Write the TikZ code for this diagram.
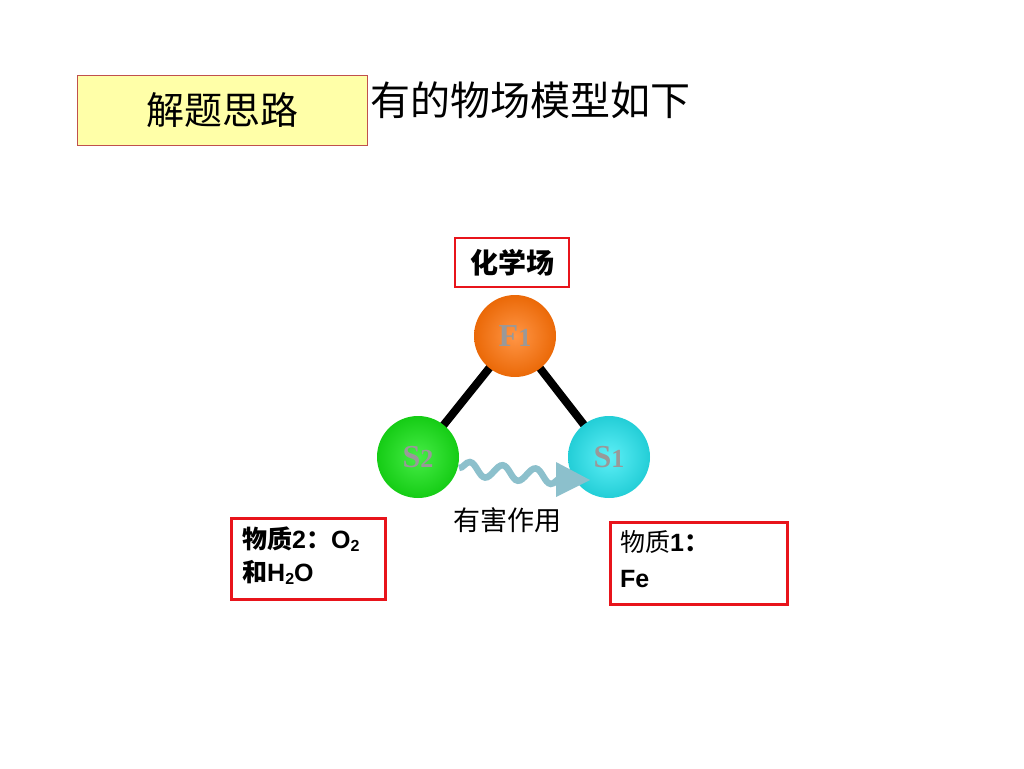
\documentclass[tikz,border=0pt]{standalone}
\usepackage{fontspec}
\setmainfont{Liberation Sans}
\newfontfamily\cjk{Noto Sans CJK SC}
\newfontfamily\lserif{Liberation Serif}
\usetikzlibrary{decorations.pathmorphing,arrows.meta,calc}
\definecolor{boxyellow}{HTML}{FFFFA8}
\definecolor{boxedge}{HTML}{C0504D}
\definecolor{redline}{HTML}{E8141B}
\definecolor{orangeF}{HTML}{FF7208}
\definecolor{greenS}{HTML}{18E818}
\definecolor{cyanS}{HTML}{28EAF4}
\definecolor{wave}{HTML}{8CC0CC}
\tikzset{
  redbox/.style={draw=redline, line width=2.6pt, fill=white},
  ball/.style={circle, minimum size=82pt, inner sep=0pt, font=\lserif\bfseries\fontsize{32}{32}\selectfont, text=gray!80},
  link/.style={line width=8pt, black},
}
\newcommand{\sub}[1]{\raisebox{-0.12em}{\fontsize{16}{16}\selectfont #1}}
\begin{document}
\begin{tikzpicture}[x=1pt,y=-1pt]
\useasboundingbox (0,0) rectangle (1024,768);
% title
\node[anchor=west, inner sep=0pt, font=\cjk\fontsize{40}{40}\selectfont] (title) at (370,100) {有的物场模型如下};
\node[draw=boxedge, line width=0.8pt, fill=boxyellow, minimum width=290pt, minimum height=70pt, inner sep=0pt, font=\cjk\fontsize{38}{38}\selectfont] (idea) at (222,110) {解题思路};
% links
\coordinate (f1c) at (515,336);
\coordinate (s2c) at (418,457);
\coordinate (s1c) at (609,457);
\draw[link] (f1c) -- (s2c);
\draw[link] (f1c) -- (s1c);
% balls
\shade[inner color=orangeF!75!white, outer color=orangeF!92!black] (f1c) circle (41);
\shade[inner color=greenS!80!white, outer color=greenS!88!black] (s2c) circle (41);
\shade[inner color=cyanS!75!white, outer color=cyanS!88!black] (s1c) circle (41);
\node[ball] (F1) at (f1c) {F\fontsize{26}{26}\selectfont 1};
\node[ball] (S2) at (s2c) {S\fontsize{26}{26}\selectfont 2};
\node[ball] (S1) at (s1c) {S\fontsize{26}{26}\selectfont 1};
% wavy arrow
\coordinate (wstart) at (459,468);
\coordinate (wend) at (562,478);
\draw[wave, line width=6.5pt, decorate, decoration={snake, amplitude=7pt, segment length=33pt, post length=0pt}] (wstart) -- (wend);
\fill[wave] (556,462) -- (590,480) -- (556,497) -- cycle;
\node[font=\cjk\fontsize{27}{27}\selectfont] (harm) at (507,520) {有害作用};
% labels
\node[redbox, minimum width=114pt, minimum height=49pt, inner sep=0pt, font=\cjk\bfseries\fontsize{28}{28}\selectfont] (chem) at (512,262.5) {化学场};
\node[redbox, minimum width=154pt, minimum height=81pt, anchor=north west] (m2) at (230,517) {};
\node[anchor=north west, align=left, inner sep=0pt, font=\bfseries\fontsize{25}{33}\selectfont] (m2t) at (242,527) {{\cjk 物质}2{\cjk ：}O\sub{2}\\{\cjk 和}H\sub{2}O};
\node[redbox, minimum width=177pt, minimum height=82pt, anchor=north west] (m1) at (609,521) {};
\node[anchor=north west, align=left, inner sep=0pt, font=\bfseries\fontsize{25}{36}\selectfont] (m1t) at (620,530) {{\cjk\mdseries 物质}1{\cjk ：}\\Fe};
\end{tikzpicture}
\end{document}
